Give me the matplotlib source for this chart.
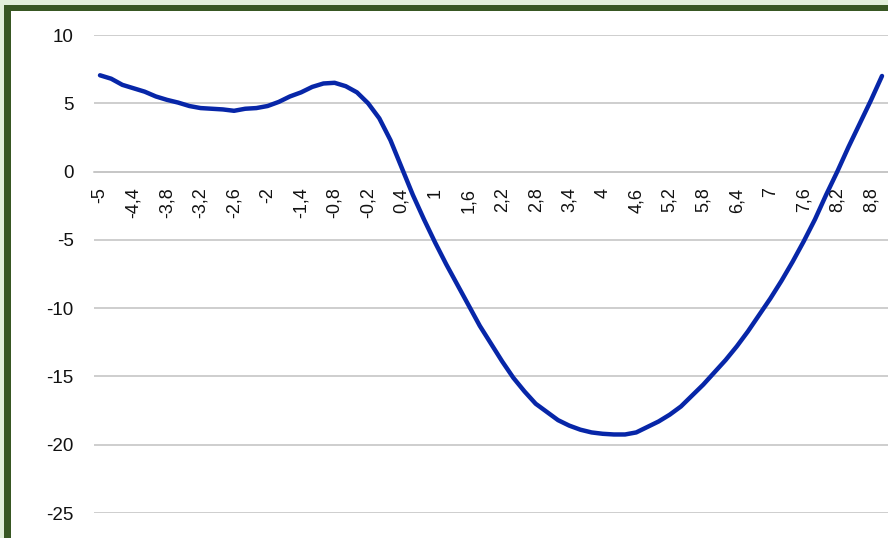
import numpy as np
import matplotlib
matplotlib.use("Agg")
import matplotlib.pyplot as plt
from matplotlib.patches import Rectangle

# Category axis: x from -5 to 9 in steps of 0.2
x_values = [round(-5 + 0.2 * i, 1) for i in range(71)]

y_values = [
    7.05, 6.80, 6.35, 6.10, 5.85, 5.50, 5.25, 5.05, 4.80, 4.65,
    4.60, 4.55, 4.45, 4.60, 4.65, 4.80, 5.10, 5.50, 5.80, 6.20,
    6.45, 6.50, 6.25, 5.80, 5.00, 3.90, 2.30, 0.30, -1.70, -3.50,
    -5.20, -6.80, -8.30, -9.80, -11.30, -12.60, -13.90, -15.10, -16.10, -17.00,
    -17.60, -18.20, -18.60, -18.90, -19.10, -19.20, -19.25, -19.25, -19.10, -18.70,
    -18.30, -17.80, -17.20, -16.40, -15.60, -14.70, -13.80, -12.80, -11.70, -10.50,
    -9.30, -8.00, -6.60, -5.10, -3.50, -1.70, 0.00, 1.80, 3.50, 5.20,
    7.00,
]

y_ticks = [-25, -20, -15, -10, -5, 0, 5, 10]
label_step = 3  # every third category is labelled


def fmt_decimal(v):
    s = f"{v:g}"
    return s.replace(".", ",")


plt.rcParams["font.family"] = ["Liberation Sans", "DejaVu Sans"]

W, H = 888, 538
fig = plt.figure(figsize=(W / 100, H / 100), dpi=100, facecolor="#e2efda")

# Dark green frame and white chart area
fig.patches.append(Rectangle((4 / W, 0), 1, (H - 5) / H, transform=fig.transFigure,
                             facecolor="#385723", edgecolor="none", zorder=-2))
fig.patches.append(Rectangle((11 / W, 0), 1, (H - 11) / H, transform=fig.transFigure,
                             facecolor="white", edgecolor="none", zorder=-1))

cat_w = (882 - 100) / 70.0
left_px = 100 - 0.5 * cat_w
right_px = 882 + 0.5 * cat_w
top_px, bottom_px = 35, 513
ax = fig.add_axes([left_px / W, (H - bottom_px) / H,
                   (right_px - left_px) / W, (bottom_px - top_px) / H])
ax.set_facecolor("none")

idx = np.arange(len(x_values))
ax.plot(idx, y_values, color="#0726a8", linewidth=3.2,
        solid_joinstyle="round", solid_capstyle="round", zorder=3, clip_on=False)

ax.set_xlim(-0.5, len(x_values) - 0.5)
ax.set_ylim(y_ticks[0], y_ticks[-1])

grid_color = "#c6c6c6"
ax.set_yticks(y_ticks)
ax.set_yticklabels([str(t) for t in y_ticks])
ax.yaxis.grid(True, color=grid_color, linewidth=1.2)
ax.set_axisbelow(True)

tick_pos = idx[::label_step]
ax.set_xticks(tick_pos)
ax.set_xticklabels([fmt_decimal(x_values[i]) for i in tick_pos])

for side in ("left", "right", "top"):
    ax.spines[side].set_visible(False)
ax.spines["bottom"].set_position(("data", 0))
ax.spines["bottom"].set_color(grid_color)
ax.spines["bottom"].set_linewidth(1.2)

ax.tick_params(axis="x", length=0, pad=11.5, labelsize=13, labelcolor="#111111",
               labelrotation=90)
ax.tick_params(axis="y", length=0, pad=15, labelsize=13.5, labelcolor="#111111")
for lbl in ax.get_xticklabels():
    lbl.set_horizontalalignment("center")
    lbl.set_verticalalignment("top")

fig.savefig("out.png", dpi=100, facecolor=fig.get_facecolor())
